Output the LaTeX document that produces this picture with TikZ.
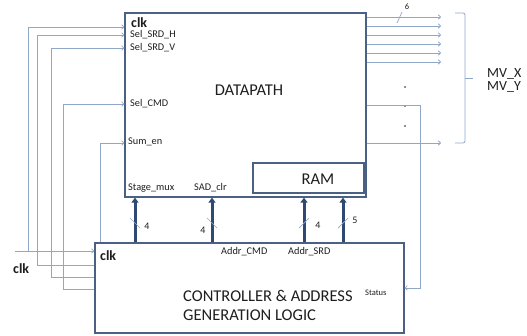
\documentclass[tikz,border=0pt]{standalone}
\usepackage{fontspec}
\setmainfont{Carlito}
\usetikzlibrary{arrows.meta,calc}
\definecolor{wire}{HTML}{8FA8C8}
\definecolor{edge}{HTML}{4A6184}
\definecolor{busc}{HTML}{2F4A72}
\definecolor{txt}{HTML}{1E1E1E}

\begin{document}
\begin{tikzpicture}[
  x=1pt, y=-1pt,
  sig/.style={wire, line width=0.8pt, -{To[length=3pt,width=5pt]}},
  wiresty/.style={wire, line width=0.8pt},
  bus/.style={busc, line width=3pt, -{Triangle[length=5pt,width=7pt]}},
  slash/.style={wire, line width=0.7pt},
  blk/.style={draw=edge, line width=1.3pt, inner sep=0pt},
  pin/.style={font=\fontsize{10.3}{11}\selectfont, text=txt, anchor=west, inner sep=0pt},
  big/.style={font=\bfseries\fontsize{14}{15}\selectfont, text=txt, anchor=west, inner sep=0pt},
  num/.style={font=\fontsize{10}{11}\selectfont, text=txt, inner sep=0pt},
  title/.style={font=\fontsize{16.5}{17}\selectfont, text=txt, inner sep=0pt}
]
\useasboundingbox (0,0) rectangle (527,335);

% blocks
\node[blk, minimum width=241pt, minimum height=184pt] (dp) at (245.5,105) {};
\node[blk, minimum width=111pt, minimum height=30pt] (ram) at (308.5,178) {};
\node[blk, minimum width=309pt, minimum height=90pt] (ctl) at (249.5,288) {};

\node[title] (dptxt) at (249,90) {DATAPATH};
\node[title] (ramtxt) at (318,179) {RAM};
\node[title, anchor=west] (ctltxta) at (183,296) {CONTROLLER \& ADDRESS};
\node[title, anchor=west] (ctltxtb) at (183,315) {GENERATION LOGIC};

% datapath pins
\node[big] (pclk) at (131,23) {clk};
\node[pin] (psrdh) at (130,35) {Sel\_SRD\_H};
\node[pin] (psrdv) at (130,48) {Sel\_SRD\_V};
\node[pin] (pcmd) at (130,104) {Sel\_CMD};
\node[pin] (psum) at (128,142) {Sum\_en};
\node[pin] (pstage) at (128,188) {Stage\_mux};
\node[pin] (psad) at (194,188) {SAD\_clr};

% controller pins
\node[big] (cclk) at (100,256) {clk};
\node[pin] (caddc) at (221,252) {Addr\_CMD};
\node[pin] (cadds) at (288,252) {Addr\_SRD};
\node[pin, font=\fontsize{8.5}{9}\selectfont] (cstat) at (365,293) {Status};
\node[big] (extclk) at (13,269) {clk};

% clock
\coordinate (clkin) at (15,251);
\draw[sig] (clkin) -- (ctl.west |- clkin);
\draw[sig] (28,251) |- (dp.west |- 0,27);

% select lines
\foreach \x/\ya/\yb in {37/265/35, 51/277/48, 63/289/104}
  \draw[sig] (ctl.west |- 0,\ya) -| (\x,\yb) -- (dp.west |- 0,\yb);
\draw[sig] (ctl.north -| 100,0) |- (dp.west |- 0,143);

% buses
\foreach \x/\n/\nx/\ny/\s in {135/4/147/226/1, 212/4/203/230/1, 304/4/318/225/-1, 343/5/355/220/-1} {
  \draw[bus] (ctl.north -| \x,0) -- (dp.south -| \x,0);
  \draw[slash] (\x-5,223-5*\s) -- (\x+5,223+5*\s);
  \node[num] at (\nx,\ny) {\n};
}

% outputs
\foreach \y in {17,26,35,44,53,62}
  \draw[sig] (dp.east |- 0,\y) -- (441,\y);
\draw[slash] (397,23) -- (402,12);
\node[num, font=\fontsize{8.5}{9}\selectfont] (six) at (407,7) {6};
\draw[sig] (dp.east |- 0,143) -- (441,143);
\foreach \y in {87,106,126}
  \fill[txt] (405,\y) circle (0.8pt);

% status feedback
\draw[sig] (dp.east |- 0,105) -| (420,288) -- (ctl.east |- 0,288);

% motion vector brace
\draw[wiresty, rounded corners=2pt] (455,13) -| (465,78);
\draw[wiresty, rounded corners=2pt] (455,143) -| (465,78);
\draw[wiresty] (465,78) -- (473,78);
\node[pin, font=\fontsize{14}{15}\selectfont] (mvx) at (487,74) {MV\_X};
\node[pin, font=\fontsize{14}{15}\selectfont] (mvy) at (487,87) {MV\_Y};
\end{tikzpicture}
\end{document}
